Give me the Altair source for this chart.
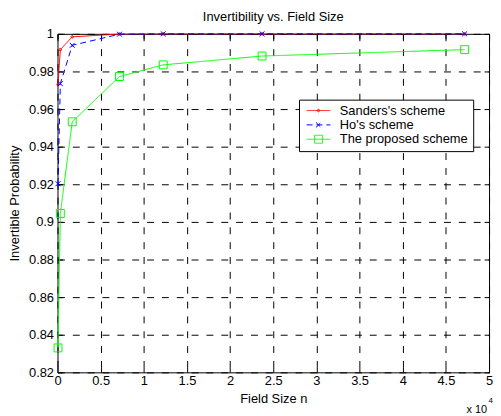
import altair as alt
import pandas as pd

F = "Liberation Sans"

series_names = ["Sanders's scheme", "Ho's scheme", "The proposed scheme"]
field_size = [60, 330, 1710, 7180, 12250, 23700, 47170]
sanders = [0.973, 0.9916, 0.9984, 0.9999, 1.0, 1.0, 1.0]
ho = [0.9203, 0.9735, 0.9939, 0.9998, 1.0, 1.0, 1.0]
proposed = [0.833, 0.9045, 0.9532, 0.9773, 0.9835, 0.9882, 0.9916]
x_ticks = [0, 5000, 10000, 15000, 20000, 25000, 30000, 35000, 40000, 45000, 50000]
y_ticks = [0.82, 0.84, 0.86, 0.88, 0.9, 0.92, 0.94, 0.96, 0.98, 1.0]
colors = ["#ff0000", "#0000ff", "#00ff00"]
dashes = [[1, 0], [6, 4], [1, 0]]

marker_paths = [
    "M-0.25,0A0.25,0.25,0,1,1,0.25,0A0.25,0.25,0,1,1,-0.25,0Z",
    "M-0.5,-0.5L0.5,0.5M-0.5,0.5L0.5,-0.5",
    "M-0.8,-0.8H0.8V0.8H-0.8Z",
]
legend_paths = ["M-2.4,0H2.4" + p for p in marker_paths]

rows = []
for name, vals in zip(series_names, [sanders, ho, proposed]):
    for n, p in zip(field_size, vals):
        rows.append({"series": name, "n": n, "p": p})
df = pd.DataFrame(rows)

xscale = alt.Scale(domain=[0, 50000], nice=False)
yscale = alt.Scale(domain=[0.82, 1.0], nice=False)
cscale = alt.Scale(domain=series_names, range=colors)
dscale = alt.Scale(domain=series_names, range=dashes)
sscale = alt.Scale(domain=series_names, range=legend_paths)

common_axis = dict(domain=False, tickSize=5, tickColor="black", offset=-5, labelFlush=False,
                   labelFont=F, labelFontSize=13, labelColor="black",
                   titleFont=F, titleFontSize=13, titleFontWeight="normal", titleColor="black")

base = alt.Chart(df)

lines = base.mark_line(strokeWidth=1).encode(
    x=alt.X("n:Q", scale=xscale, axis=alt.Axis(
        orient="bottom", values=x_ticks, labelExpr="format(datum.value/10000, '~g')",
        title="Field Size n", grid=True, gridColor="black", gridDash=[7, 8], gridWidth=1,
        labelPadding=2, titlePadding=5, **common_axis)),
    y=alt.Y("p:Q", scale=yscale, axis=alt.Axis(
        orient="left", values=y_ticks, format=".2~f",
        title="Invertible Probability", grid=True, gridColor="black", gridDash=[7, 8], gridWidth=1,
        labelPadding=4, titlePadding=7, **common_axis)),
    color=alt.Color("series:N", scale=cscale),
    strokeDash=alt.StrokeDash("series:N", scale=dscale, legend=None),
)

frame_ticks = base.transform_filter("false").mark_point(opacity=0).encode(
    x=alt.X("n:Q", scale=xscale, axis=alt.Axis(
        orient="top", values=x_ticks, labels=False, title=None, grid=False, **common_axis)),
    y=alt.Y("p:Q", scale=yscale, axis=alt.Axis(
        orient="right", values=y_ticks, labels=False, title=None, grid=False, **common_axis)),
)

marker_layers = []
for name, path in zip(series_names, marker_paths):
    marker_layers.append(
        base.transform_filter(alt.FieldEqualPredicate(field="series", equal=name)).mark_point(
            filled=False, size=100, strokeWidth=1, opacity=1, shape=path
        ).encode(
            x=alt.X("n:Q", scale=xscale, axis=None),
            y=alt.Y("p:Q", scale=yscale, axis=None),
            color=alt.Color("series:N", scale=cscale),
        )
    )

leg = dict(title=None, labelExpr="datum.label + '\u2002\u2002'", symbolOpacity=1)
legend_layer = base.transform_filter("false").mark_point(filled=False, size=100, strokeWidth=1).encode(
    x=alt.X("n:Q", scale=xscale, axis=None),
    y=alt.Y("p:Q", scale=yscale, axis=None),
    color=alt.Color("series:N", scale=cscale, legend=alt.Legend(**leg)),
    shape=alt.Shape("series:N", scale=sscale, legend=alt.Legend(**leg)),
)

exp_base = alt.Chart(pd.DataFrame({"t": ["x 10"]})).mark_text(
    align="right", baseline="alphabetic", font=F, fontSize=11, color="black"
).encode(text="t:N", x=alt.value(434), y=alt.value(383))
exp_sup = alt.Chart(pd.DataFrame({"t": ["4"]})).mark_text(
    align="left", baseline="alphabetic", font=F, fontSize=8, color="black"
).encode(text="t:N", x=alt.value(435.5), y=alt.value(373))

chart = alt.layer(lines, frame_ticks, *marker_layers, legend_layer, exp_base, exp_sup).resolve_axis(
    x="independent", y="independent"
).properties(
    width=436, height=342,
    title=alt.TitleParams("Invertibility vs. Field Size", font=F, fontSize=13, fontWeight="normal",
                          color="black", anchor="middle", offset=4),
    autosize=alt.AutoSizeParams(type="none"),
    padding={"left": 50, "top": 24, "right": 4, "bottom": 42},
).configure_view(stroke="black", strokeWidth=1).configure_legend(
    orient="none", legendX=244, legendY=66.5, labelFont=F, labelFontSize=13, labelColor="black",
    padding=4.5, rowPadding=0.5, strokeColor="black", fillColor="white", cornerRadius=0,
    symbolSize=100, symbolStrokeWidth=1, symbolOffset=8.7, labelOffset=15,
)

chart.save("out.html", embed_options={"renderer": "svg", "actions": False})
